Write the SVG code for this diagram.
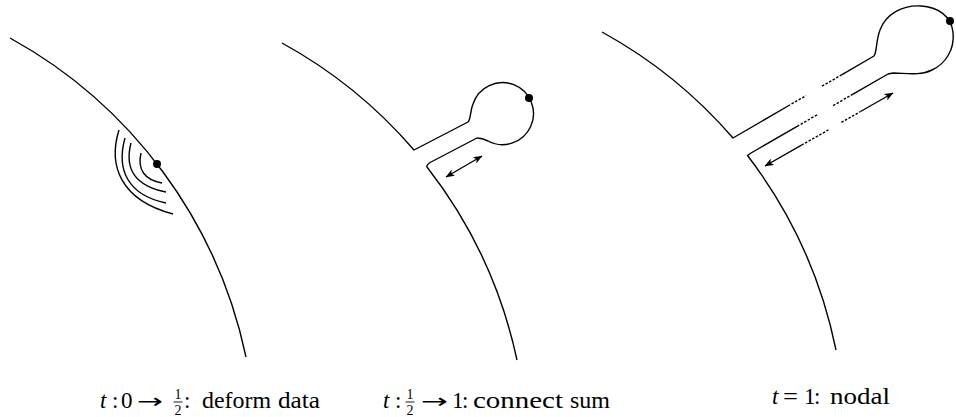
<svg xmlns="http://www.w3.org/2000/svg" width="956" height="417" viewBox="0 0 956 417">
<style>
.ln{fill:none;stroke:#000;stroke-width:1.4;stroke-linejoin:round}
.ds{fill:none;stroke:#000;stroke-width:1.4;stroke-dasharray:2.5 1.6}
.dot{fill:#000}
.tx{font-family:"Liberation Serif","DejaVu Serif",serif;font-size:23px;fill:#000}
.fr{font-family:"Liberation Serif","DejaVu Serif",serif;font-size:14px;fill:#000;text-anchor:middle}
.it{font-style:italic}
.ar{font-family:"DejaVu Sans",sans-serif;font-size:20px}
</style>
<defs>
<marker id="ah" viewBox="0 0 10 8" refX="9.5" refY="4" markerWidth="9" markerHeight="7.2" markerUnits="userSpaceOnUse" orient="auto-start-reverse">
<path d="M0,0 L10,4 L0,8 L2.5,4 z" fill="#000"/>
</marker>
</defs>
<rect width="956" height="417" fill="#fff"/>

<g id="panel1">
<path class="ln" d="M10,38 A476,476 0 0 1 246,357"/>
<path class="ln" d="M141,153 C137,170 145,180 162,183"/>
<path class="ln" d="M131,143 C124,170 136,186 166,192"/>
<path class="ln" d="M125,138 C116,170 128,195 166,203"/>
<path class="ln" d="M119,130 C108,165 120,200 173,214"/>
<circle class="dot" cx="157" cy="164" r="4"/>
</g>

<g id="panel2">
<path class="ln" d="M282,43 A476,476 0 0 1 414,150 L468,122 C471,119 470,111 473,104 A31,31 0 1 1 488,141 C484,139 481,138 477,138 L431,162 Q426,165 427,167 A476,476 0 0 1 517,360"/>
<circle class="dot" cx="529" cy="98" r="4"/>
</g>

<g id="panel3">
<path class="ln" d="M602,32 A476,476 0 0 1 733,138 L788,106"/>
<path class="ds" d="M788,106 L806,95.6"/>
<path class="ds" d="M822,86.2 L842,74.6"/>
<path class="ln" d="M842,74.6 L874,56 C877,52 876,40 880,30 C886,14 902,5 921,6 C938,7 951,16 953,32 C955,50 945,64 932,70 C920,76 905,73 893,73 L888,74 L853,94.1"/>
<path class="ds" d="M853,94.1 L833,105.7"/>
<path class="ds" d="M817,114.9 L798,125.9"/>
<path class="ln" d="M798,125.9 L751,153 L747.5,155.5 A476,476 0 0 1 836,350"/>
<circle class="dot" cx="950" cy="21" r="4"/>
</g>

<g id="connectors">
<line class="ln" x1="446" y1="177" x2="482" y2="156" marker-start="url(#ah)" marker-end="url(#ah)"/>
<line class="ln" x1="801.5" y1="145.2" x2="765" y2="166" marker-end="url(#ah)"/>
<path class="ds" d="M801.5,145.2 L828.4,129.9"/>
<path class="ds" d="M841.4,122.4 L860.5,111.5"/>
<line class="ln" x1="860.5" y1="111.5" x2="893" y2="93" marker-end="url(#ah)"/>
</g>

<g id="label1">
<text class="tx" y="408"><tspan class="it" x="100">t</tspan><tspan x="112">:</tspan><tspan x="121">0</tspan><tspan class="ar" x="137" textLength="26" lengthAdjust="spacingAndGlyphs">→</tspan><tspan x="184">:</tspan><tspan x="202" textLength="69" lengthAdjust="spacingAndGlyphs">deform</tspan><tspan x="278" textLength="42" lengthAdjust="spacingAndGlyphs">data</tspan></text>
<text class="fr" x="178" y="399">1</text>
<line x1="173.5" y1="402" x2="182.5" y2="402" stroke="#000" stroke-width="0.9"/>
<text class="fr" x="178" y="415">2</text>
</g>

<g id="label2">
<text class="tx" y="408"><tspan class="it" x="383">t</tspan><tspan x="395">:</tspan><tspan class="ar" x="421" textLength="27" lengthAdjust="spacingAndGlyphs">→</tspan><tspan x="452">1</tspan><tspan x="462">:</tspan><tspan x="473" textLength="90" lengthAdjust="spacingAndGlyphs">connect</tspan><tspan x="570" textLength="40" lengthAdjust="spacingAndGlyphs">sum</tspan></text>
<text class="fr" x="410" y="399">1</text>
<line x1="405.5" y1="402" x2="414.5" y2="402" stroke="#000" stroke-width="0.9"/>
<text class="fr" x="410" y="415">2</text>
</g>

<g id="label3">
<text class="tx" y="404"><tspan class="it" x="772">t</tspan><tspan x="783" textLength="15" lengthAdjust="spacingAndGlyphs">=</tspan><tspan x="804">1</tspan><tspan x="814">:</tspan><tspan x="830" textLength="60" lengthAdjust="spacingAndGlyphs">nodal</tspan></text>
</g>
</svg>
